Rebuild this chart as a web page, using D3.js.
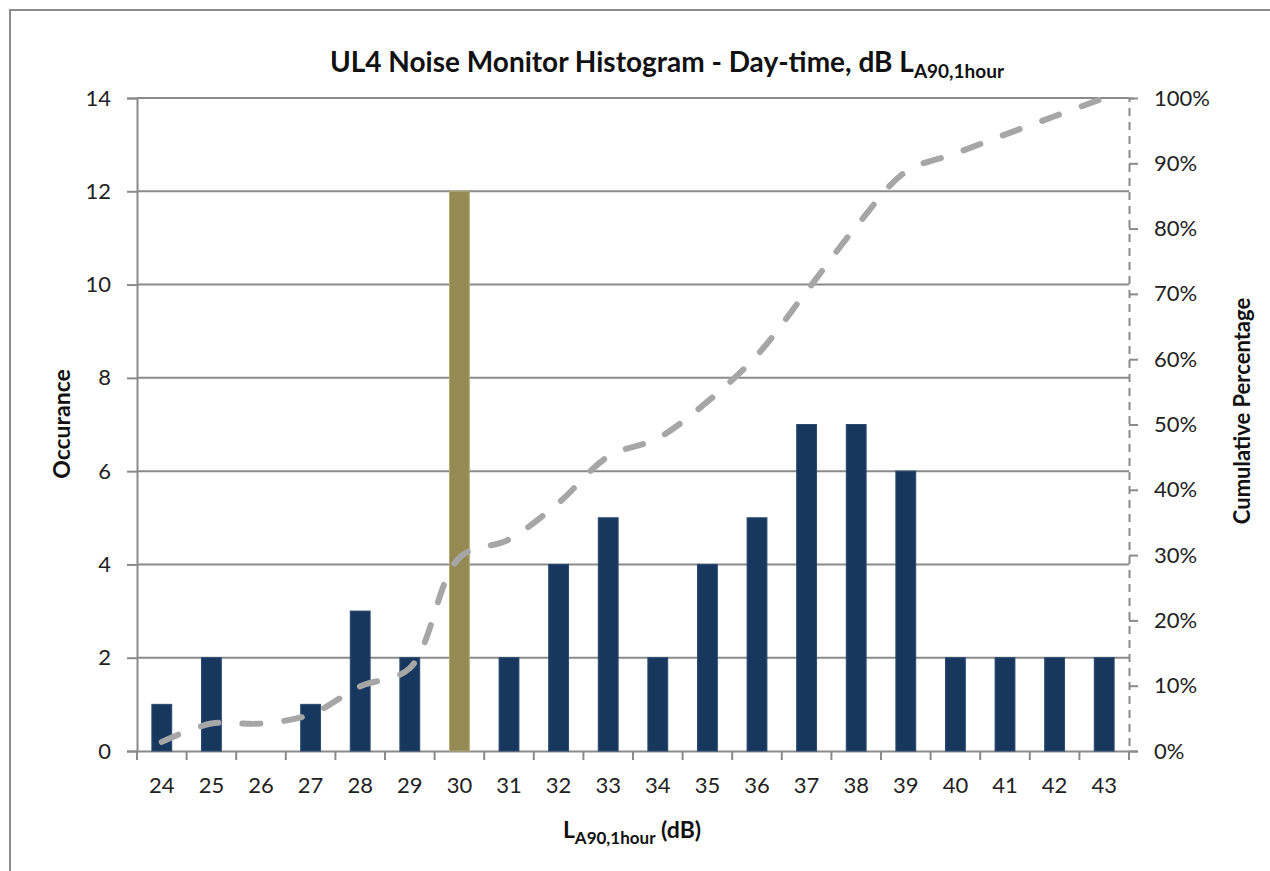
<!DOCTYPE html>
<html>
<head>
<meta charset="utf-8">
<script src="https://cdn.jsdelivr.net/npm/d3@7"></script>
<style>
  html, body { margin: 0; padding: 0; background: #fff; }
  svg { display: block; font-family: Lato, "Open Sans", sans-serif; }
</style>
</head>
<body>
<svg id="chart" width="1270" height="871"></svg>
<script>
// ---- data ----
const categories = ["24","25","26","27","28","29","30","31","32","33","34","35","36","37","38","39","40","41","42","43"];
const occurrences = [1, 2, 0, 1, 3, 2, 12, 2, 4, 5, 2, 4, 5, 7, 7, 6, 2, 2, 2, 2];
const cumulativePct = [0.014, 0.042, 0.042, 0.056, 0.099, 0.127, 0.296, 0.324, 0.380, 0.451, 0.479, 0.535, 0.606, 0.704, 0.803, 0.887, 0.915, 0.944, 0.972, 1.000];
const highlightCategory = "30";
const leftTicks = [0, 2, 4, 6, 8, 10, 12, 14];
const rightTicks = [0, 0.1, 0.2, 0.3, 0.4, 0.5, 0.6, 0.7, 0.8, 0.9, 1.0];

// ---- layout ----
const plot = { left: 137, right: 1129, top: 98, bottom: 751 };
const gridColor = "#8a8a8a";
const textColor = "#222";

const svg = d3.select("#chart");

// outer frame
svg.append("rect")
  .attr("x", 10).attr("y", 10).attr("width", 1400).attr("height", 1000)
  .attr("fill", "none").attr("stroke", "#8c8c8c").attr("stroke-width", 2);

const x = d3.scaleBand().domain(categories).range([plot.left, plot.right]).paddingInner(0.6).paddingOuter(0.3);
const xEdges = d3.scaleBand().domain(categories).range([plot.left, plot.right]).padding(0);
const y = d3.scaleLinear().domain([0, 14]).range([plot.bottom, plot.top]);
const y2 = d3.scaleLinear().domain([0, 1]).range([plot.bottom, plot.top]);

// gridlines
svg.append("g").selectAll("line").data(leftTicks.filter(d => d > 0)).join("line")
  .attr("x1", plot.left).attr("x2", plot.right)
  .attr("y1", d => y(d)).attr("y2", d => y(d))
  .attr("stroke", gridColor).attr("stroke-width", 2);

// left axis
const gLeft = svg.append("g").attr("transform", `translate(${plot.left},0)`)
  .call(d3.axisLeft(y).tickValues(leftTicks).tickSize(10).tickPadding(16).tickFormat(d3.format("d")));
gLeft.select(".domain").attr("stroke", gridColor).attr("stroke-width", 2);
gLeft.selectAll(".tick line").attr("stroke", gridColor).attr("stroke-width", 2);
gLeft.selectAll(".tick text").attr("font-size", 22).attr("fill", textColor).attr("font-family", "Lato, sans-serif");

// right axis
const gRight = svg.append("g").attr("transform", `translate(${plot.right},0)`)
  .call(d3.axisRight(y2).tickValues(rightTicks).tickSize(9).tickPadding(16).tickFormat(d3.format(".0%")));
gRight.select(".domain").attr("stroke", gridColor).attr("stroke-width", 2).attr("stroke-dasharray", "8,6");
gRight.selectAll(".tick line").attr("stroke", gridColor).attr("stroke-width", 2);
gRight.selectAll(".tick text").attr("font-size", 22).attr("fill", textColor).attr("font-family", "Lato, sans-serif");

// bottom axis (labels at band centres, ticks at band edges)
const gBottom = svg.append("g").attr("transform", `translate(0,${plot.bottom})`)
  .call(d3.axisBottom(xEdges).tickSize(0).tickPadding(26));
gBottom.select(".domain").attr("stroke", gridColor).attr("stroke-width", 2);
gBottom.selectAll(".tick text").attr("font-size", 22).attr("fill", textColor).attr("font-family", "Lato, sans-serif");
const edgePositions = categories.map(c => xEdges(c)).concat([xEdges(categories[categories.length - 1]) + xEdges.bandwidth()]);
gBottom.append("g").selectAll("line").data(edgePositions).join("line")
  .attr("x1", d => d).attr("x2", d => d).attr("y1", 0).attr("y2", 9)
  .attr("stroke", gridColor).attr("stroke-width", 2);

// bars
svg.append("g").selectAll("rect").data(categories).join("rect")
  .attr("x", d => x(d))
  .attr("width", x.bandwidth())
  .attr("y", (d, i) => y(occurrences[i]))
  .attr("height", (d, i) => y(0) - y(occurrences[i]))
  .attr("fill", d => d === highlightCategory ? "#948A54" : "#17375E")
  .attr("stroke", d => d === highlightCategory ? "#B3AA78" : "#2a4a72")
  .attr("stroke-width", 1);

// cumulative line
const line = d3.line()
  .x((d, i) => x(categories[i]) + x.bandwidth() / 2)
  .y(d => y2(d))
  .curve(d3.curveCatmullRom.alpha(0.5));
svg.append("path")
  .datum(cumulativePct)
  .attr("d", line)
  .attr("fill", "none")
  .attr("stroke", "#A6A6A6")
  .attr("stroke-width", 6)
  .attr("stroke-linecap", "round")
  .attr("stroke-dasharray", "18,24");

// title
const title = svg.append("text")
  .attr("x", 667).attr("y", 72)
  .attr("text-anchor", "middle")
  .attr("font-size", 28).attr("font-weight", "bold").attr("fill", "#111");
title.append("tspan").text("UL4 Noise Monitor Histogram - Day-time, dB L");
title.append("tspan").attr("font-size", 19).attr("dy", 6).text("A90,1hour");

// x axis title
const xt = svg.append("text")
  .attr("x", 632).attr("y", 838)
  .attr("text-anchor", "middle")
  .attr("font-size", 23).attr("font-weight", "bold").attr("fill", "#111");
xt.append("tspan").text("L");
xt.append("tspan").attr("font-size", 17).attr("dy", 6).text("A90,1hour");
xt.append("tspan").attr("dy", -6).text(" (dB)");

// left axis title
svg.append("text")
  .attr("transform", "translate(70,424) rotate(-90)")
  .attr("text-anchor", "middle")
  .attr("font-size", 23).attr("font-weight", "bold").attr("fill", "#111")
  .text("Occurance");

// right axis title
svg.append("text")
  .attr("transform", "translate(1250,411) rotate(-90)")
  .attr("text-anchor", "middle")
  .attr("font-size", 22).attr("font-weight", "bold").attr("fill", "#111")
  .text("Cumulative Percentage");
</script>
</body>
</html>
